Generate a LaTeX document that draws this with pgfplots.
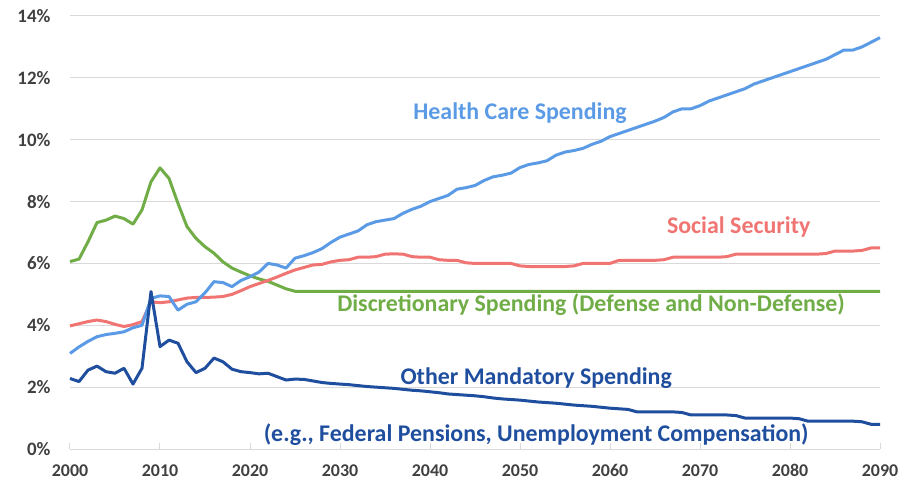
\documentclass[border=0pt]{standalone}
\usepackage{fontspec}
\setmainfont{Carlito}
\usepackage{pgfplots}
\usepackage{pgfplotstable}
\pgfplotsset{compat=1.18}

\definecolor{health}{RGB}{91,155,230}
\definecolor{social}{RGB}{240,116,114}
\definecolor{disc}{RGB}{112,173,71}
\definecolor{other}{RGB}{31,78,158}
\definecolor{tickgray}{RGB}{64,64,64}
\definecolor{gridgray}{RGB}{217,217,217}

% year, health care, social security, discretionary, other mandatory (% of GDP)
\pgfplotstableread{
year health ss disc other
2000 3.09 3.98 6.06 2.28
2001 3.30 4.05 6.14 2.18
2002 3.48 4.12 6.70 2.55
2003 3.63 4.17 7.32 2.68
2004 3.70 4.12 7.40 2.50
2005 3.74 4.03 7.53 2.45
2006 3.79 3.96 7.45 2.61
2007 3.92 4.02 7.27 2.10
2008 4.00 4.12 7.73 2.61
2009 4.87 4.76 8.64 5.09
2010 4.95 4.73 9.09 3.31
2011 4.93 4.76 8.75 3.52
2012 4.49 4.82 7.94 3.42
2013 4.68 4.88 7.19 2.82
2014 4.76 4.90 6.81 2.47
2015 5.05 4.90 6.54 2.61
2016 5.41 4.91 6.33 2.94
2017 5.38 4.93 6.05 2.82
2018 5.25 5.00 5.85 2.58
2019 5.45 5.12 5.72 2.50
2020 5.57 5.25 5.60 2.47
2021 5.72 5.35 5.50 2.43
2022 6.00 5.45 5.42 2.45
2023 5.95 5.56 5.30 2.34
2024 5.85 5.68 5.18 2.23
2025 6.17 5.79 5.10 2.26
2026 6.25 5.87 5.10 2.25
2027 6.35 5.95 5.10 2.20
2028 6.48 5.97 5.10 2.15
2029 6.68 6.05 5.10 2.12
2030 6.85 6.10 5.10 2.10
2031 6.95 6.12 5.10 2.08
2032 7.05 6.20 5.10 2.05
2033 7.25 6.20 5.10 2.02
2034 7.35 6.22 5.10 2.00
2035 7.40 6.30 5.10 1.98
2036 7.45 6.31 5.10 1.96
2037 7.62 6.30 5.10 1.93
2038 7.75 6.22 5.10 1.90
2039 7.85 6.20 5.10 1.88
2040 8.00 6.20 5.10 1.85
2041 8.10 6.12 5.10 1.82
2042 8.20 6.10 5.10 1.78
2043 8.40 6.10 5.10 1.76
2044 8.45 6.02 5.10 1.74
2045 8.52 6.00 5.10 1.72
2046 8.68 6.00 5.10 1.69
2047 8.80 6.00 5.10 1.65
2048 8.85 6.00 5.10 1.62
2049 8.92 6.00 5.10 1.60
2050 9.10 5.92 5.10 1.58
2051 9.20 5.90 5.10 1.55
2052 9.25 5.90 5.10 1.52
2053 9.32 5.90 5.10 1.50
2054 9.50 5.90 5.10 1.48
2055 9.60 5.90 5.10 1.45
2056 9.65 5.92 5.10 1.42
2057 9.72 6.00 5.10 1.40
2058 9.85 6.00 5.10 1.38
2059 9.95 6.00 5.10 1.35
2060 10.10 6.00 5.10 1.32
2061 10.20 6.10 5.10 1.30
2062 10.30 6.10 5.10 1.28
2063 10.40 6.10 5.10 1.20
2064 10.50 6.10 5.10 1.20
2065 10.60 6.10 5.10 1.20
2066 10.72 6.12 5.10 1.20
2067 10.90 6.20 5.10 1.20
2068 11.00 6.20 5.10 1.18
2069 11.00 6.20 5.10 1.10
2070 11.10 6.20 5.10 1.10
2071 11.25 6.20 5.10 1.10
2072 11.35 6.20 5.10 1.10
2073 11.45 6.22 5.10 1.10
2074 11.55 6.30 5.10 1.08
2075 11.65 6.30 5.10 1.00
2076 11.80 6.30 5.10 1.00
2077 11.90 6.30 5.10 1.00
2078 12.00 6.30 5.10 1.00
2079 12.10 6.30 5.10 1.00
2080 12.20 6.30 5.10 1.00
2081 12.30 6.30 5.10 0.98
2082 12.40 6.30 5.10 0.90
2083 12.50 6.30 5.10 0.90
2084 12.60 6.32 5.10 0.90
2085 12.75 6.40 5.10 0.90
2086 12.90 6.40 5.10 0.90
2087 12.90 6.40 5.10 0.90
2088 13.00 6.42 5.10 0.88
2089 13.15 6.50 5.10 0.80
2090 13.30 6.50 5.10 0.80
}\spending

\begin{document}
\begin{tikzpicture}
\path[use as bounding box] (-70bp,-33bp) rectangle (830bp,449bp);
\begin{axis}[
  at={(0,0)}, anchor=south west,
  scale only axis,
  width=810bp, height=433bp,
  xmin=2000, xmax=2090,
  ymin=0, ymax=14,
  xtick={2000,2010,...,2090},
  ytick={0,2,...,14},
  yticklabel={\pgfmathprintnumber{\tick}\%},
  /pgf/number format/assume math mode=true,
  x tick label style={/pgf/number format/1000 sep={}, font=\fontsize{18}{20}\selectfont\bfseries, text=tickgray, yshift=-12bp},
  y tick label style={font=\fontsize{19}{21}\selectfont\bfseries, text=tickgray, xshift=-16bp},
  axis x line=bottom, axis y line=left,
  axis line style={draw=none},
  ymajorgrids,
  grid style={gridgray, line width=1bp},
  x tick style={gridgray, line width=1bp},
  y tick style={draw=none},
  major tick length=6bp,
  tick align=inside,
  clip=false,
  every axis plot/.append style={line width=3bp, line join=round},
]
  \draw[gridgray, line width=1bp] (axis cs:2000,0) -- (axis cs:2090,0);
  \addplot[disc] table[x=year, y=disc] {\spending};
  \addplot[social] table[x=year, y=ss] {\spending};
  \addplot[health] table[x=year, y=health] {\spending};
  \addplot[other] table[x=year, y=other] {\spending};

  \begin{scope}[font=\fontsize{24}{28}\selectfont\bfseries]
  \node[health] at (axis cs:2050.0,10.86) {Health Care Spending};
  \node[social] at (axis cs:2074.3,7.18) {Social Security};
  \node[disc] at (axis cs:2057.9,4.66) {Discretionary Spending (Defense and Non-Defense)};
  \node[other] at (axis cs:2051.8,2.30) {Other Mandatory Spending};
  \node[other] at (axis cs:2051.8,0.48) {(e.g., Federal Pensions, Unemployment Compensation)};
  \end{scope}
\end{axis}
\end{tikzpicture}
\end{document}
